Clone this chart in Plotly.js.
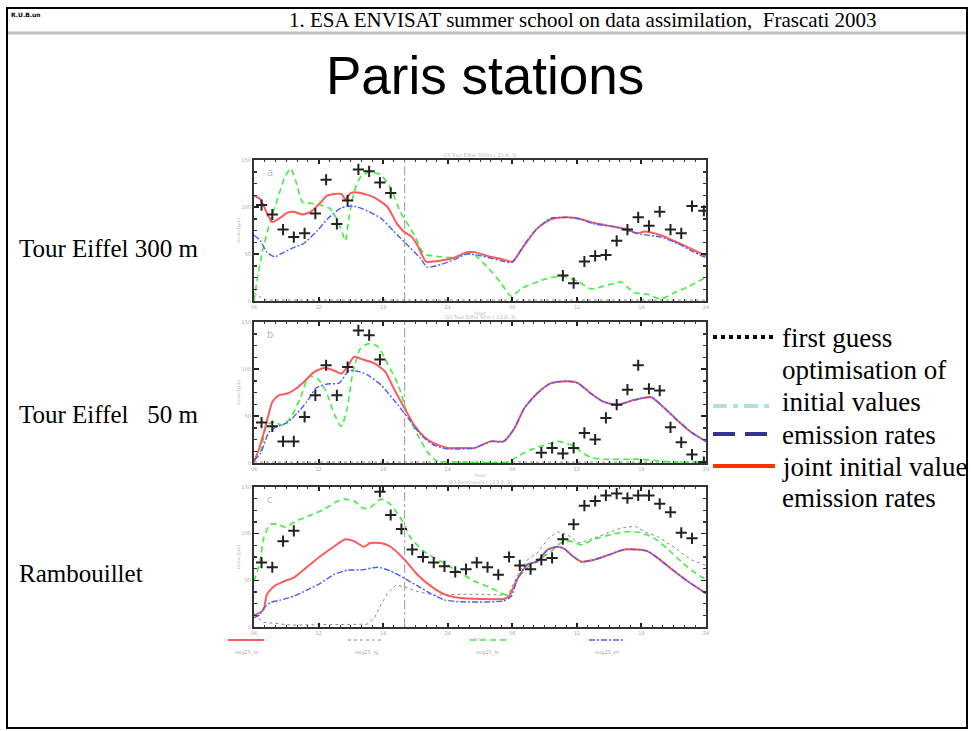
<!DOCTYPE html>
<html>
<head>
<meta charset="utf-8">
<script src="https://cdn.plot.ly/plotly-3.0.1.min.js"></script>
<style>html,body{margin:0;padding:0;background:#fff}#chart{width:971px;height:731px}</style>
</head>
<body>
<div id="chart"></div>
<script>
// ---------- DATA (hours, ozone ppb) ----------
const hourTicks = [6, 12, 18, 24, 30, 36, 42, 48];
const hourTickText = ['06', '12', '18', '24', '06', '12', '18', '24'];
const ozoneTicks = [0, 50, 100, 150];
const analysisEnd = 20;

const stationNames = ['Tour Eiffel 300 m', 'Tour Eiffel   50 m', 'Rambouillet'];
const panelTitles = ['O3 Tour Eiffel 300m ( 13.8. 3)', 'O3 Tour Eiffel 50m ( 13.8. 3)', 'O3 Rambouillet ( 13.8. 3)'];
const panelLetters = ['a', 'b', 'c'];
const runNames = ['oeg25_fe', 'oeg25_fg', 'oug25_fe', 'oug25_eh'];
const legendLabels = ['first guess', 'optimisation of', 'initial values', 'emission rates', 'joint initial value', 'emission rates'];

// Panel 1 : Tour Eiffel 300 m
const p1JointX = [6,6.6,7.1,7.7,8.5,9.1,9.7,10.5,11.3,12.2,12.8,14.1,14.5,15.0,15.9,17.2,18.4,19.3,20.0,20.6,21.2,22.0,23.4,24.6,25.8,26.5,27.7,28.9,30.0,31.1,32.3,33.6,35.1,36.4,37.6,39.5,40.7,41.6,42.3,43.8,45.4,46.9,48];
const p1JointY = [112,108,96,84,89,94,95,92,95,105,112,114,108,115,115,110,100,82,73,69,59,42,43,46,52,52,48,45,42,59,77,87,89,87,83,79,76,72,74,70,62,54,48];
const p1EmisX = [6,6.6,7.2,7.9,8.8,9.7,10.6,11.9,12.8,14.1,15.3,16.5,17.8,19.0,20.3,21.5,22.1,23.4,24.6,25.8,27.1,28.9,30.0,31.1,32.3,33.6,35.1,36.4,37.6,39.5,40.7,42.0,43.8,45.4,46.9,48];
const p1EmisY = [70,64,52,47,52,57,61,75,87,99,101,96,88,74,59,45,36,39,44,50,48,43,41,60,77,88,89,87,82,79,75,71,68,61,52,46];
const p1InitX = [6,6.3,6.9,7.5,8.2,8.8,9.4,9.9,10.5,11.3,12.2,13.1,13.7,14.2,14.5,14.8,15.3,15.9,16.7,17.8,18.7,19.6,20.9,21.8,22.7,24.6,25.8,26.5,27.7,28.9,29.9,30.8,32.0,33.6,34.8,36.1,37.3,38.9,40.1,41.3,42.6,43.8,45.1,46.3,48];
const p1InitY = [0,23,59,84,109,130,141,127,105,104,102,98,87,73,64,87,116,132,137,134,120,95,70,50,48,46,51,49,36,20,5,13,19,25,26,21,13,17,20,9,7,2,9,15,25];
const p1GuessX = [6,6.6,7.2,12,18,24,30,36,42,48];
const p1GuessY = [9,4,1,1,1,1,1,1,1,1];
const p1ObsX = [6.7,7.7,8.7,9.7,10.7,11.7,12.7,13.7,14.7,15.7,16.7,17.7,18.7,34.7,35.7,36.7,37.7,38.7,39.7,40.7,41.7,42.7,43.7,44.7,45.7,46.7,47.8];
const p1ObsY = [102,92,76,68,72,93,129,82,107,140,138,126,115,27,19,42,48,49,64,76,89,80,95,76,72,101,96];

// Panel 2 : Tour Eiffel 50 m
const p2JointX = [6,6.5,7.1,7.7,8.3,9.1,9.9,10.7,11.6,12.5,13.3,14.1,14.6,15.3,15.9,17.2,18.2,19.0,20.0,20.9,21.8,22.7,24.0,25.2,26.5,28.0,29.2,30.2,31.1,32.3,33.6,35.1,36.1,37.3,38.5,39.8,41.3,42.9,43.8,45.1,46.6,48];
const p2JointY = [1,16,40,65,72,74,79,87,97,101,99,95,101,113,111,106,97,79,58,40,28,21,16,16,16,23,23,37,58,74,85,87,85,74,65,62,67,70,62,48,33,23];
const p2EmisX = [6,6.6,7.4,8.2,9.1,10.0,10.9,11.8,12.8,13.9,14.8,15.5,16.5,17.8,19.0,20.3,21.5,22.7,24.0,26.5,28.0,29.2,30.2,31.1,32.3,33.6,35.1,36.1,37.3,38.5,39.8,41.3,42.9,43.8,45.1,46.6,48];
const p2EmisY = [3,10,33,39,43,53,65,80,84,85,98,98,94,83,67,48,30,19,15,16,23,23,37,58,74,85,87,85,74,65,62,67,70,62,48,33,23];
const p2InitX = [6,6.6,7.2,7.9,8.6,9.4,10.3,11.1,11.9,12.7,13.5,14.1,14.6,15.2,15.9,16.7,17.5,18.4,19.4,20.3,21.2,22.1,23.0,24.9,29.6,30.5,31.7,33.0,34.2,35.5,36.4,37.3,38.5,42.0,43.8,44.8,48];
const p2InitY = [3,12,40,44,40,48,69,92,90,76,51,39,55,97,122,127,124,106,83,51,30,12,2,1,1,7,14,19,23,19,12,6,4,4,2,1,1];
const p2GuessX = [6,12,18,24,30,36,42,48];
const p2GuessY = [1,1,1,1,1,1,1,1];
const p2ObsX = [6.7,7.7,8.7,9.7,10.7,11.7,12.7,13.7,14.7,15.7,16.7,17.7,32.7,33.7,34.7,35.7,36.7,37.7,38.7,39.7,40.7,41.7,42.7,43.7,44.7,45.7,46.7,47.8];
const p2ObsY = [43,39,23,23,49,72,104,72,102,141,136,110,11,16,10,16,32,25,48,62,78,104,79,77,38,22,9,1];

// Panel 3 : Rambouillet
const p3JointX = [6,6.5,6.9,7.2,7.9,8.8,9.7,11.0,12.2,13.4,14.5,15.3,16.2,16.8,17.8,18.7,20.0,21.2,22.4,23.7,25.2,27.1,29.2,29.7,30.5,31.4,32.3,33.3,34.2,34.8,35.6,36.4,37.6,38.9,40.4,41.6,42.6,43.5,44.7,46.3,48];
const p3JointY = [13,15,19,35,44,49,53,65,76,86,94,92,86,90,90,86,72,56,44,35,31,30,30,33,52,67,70,83,86,84,76,70,72,77,83,83,81,74,63,49,36];
const p3EmisX = [6,6.5,6.9,7.5,8.5,9.7,11.0,12.2,13.4,14.7,15.9,17.5,18.7,20.0,21.2,22.4,23.7,25.2,29.2,29.9,30.5,31.4,32.3,33.3,34.2,34.8,35.6,36.4,37.6,38.9,40.4,41.6,42.6,43.5,44.7,46.3,48];
const p3EmisY = [10,13,20,26,29,33,40,47,56,61,61,64,60,52,44,36,29,27,28,33,52,67,70,83,86,84,76,70,72,77,83,83,81,74,63,49,36];
const p3InitX = [6,6.5,6.9,7.5,8.2,8.9,10.0,11.3,12.5,13.8,14.5,15.3,16.2,16.8,17.8,18.7,19.6,20.6,21.8,23.4,24.9,26.5,28.0,29.6,30.5,31.7,32.7,33.6,34.5,35.4,36.4,37.6,39.2,40.7,42.0,43.2,44.5,45.7,47.0,48];
const p3InitY = [49,67,95,110,110,107,114,120,126,135,137,135,127,128,137,131,117,95,81,70,60,49,42,34,52,67,74,81,90,92,88,94,99,102,101,95,83,70,58,51];
const p3GuessX = [6,6.9,7.9,9.4,16.5,17.2,17.8,18.4,19.2,20.0,21.2,22.8,24.6,27.1,29.6,30.5,31.4,32.3,33.3,34.2,35.1,36.2,37.3,38.5,40.1,41.4,42.3,43.5,45.1,46.6,48];
const p3GuessY = [13,5,4,2,3,10,24,36,45,43,38,34,35,35,34,56,72,79,94,102,99,90,94,99,106,108,102,97,85,72,66];
const p3ObsX = [6.7,7.7,8.7,9.7,17.7,18.7,19.7,20.7,21.7,22.7,23.7,24.7,25.7,26.7,27.7,28.7,29.7,30.7,31.7,32.7,33.7,34.7,35.7,36.7,37.7,38.7,39.7,40.7,41.7,42.7,43.7,44.7,45.7,46.7];
const p3ObsY = [69,64,92,103,145,120,105,83,75,69,65,59,62,69,64,56,75,66,62,72,74,94,110,130,135,141,143,138,141,141,132,123,101,95];

// ---------- LAYOUT HELPERS ----------
const W = 971, H = 731;
const fx = p => p / W;
const fy = p => 1 - p / H;
const panelBox = [[160, 301], [322, 463], [487, 627]];
const xDom = [fx(254), fx(706)];

const panels = [
  {jx: p1JointX, jy: p1JointY, ex: p1EmisX, ey: p1EmisY, ix: p1InitX, iy: p1InitY, gx: p1GuessX, gy: p1GuessY, ox: p1ObsX, oy: p1ObsY},
  {jx: p2JointX, jy: p2JointY, ex: p2EmisX, ey: p2EmisY, ix: p2InitX, iy: p2InitY, gx: p2GuessX, gy: p2GuessY, ox: p2ObsX, oy: p2ObsY},
  {jx: p3JointX, jy: p3JointY, ex: p3EmisX, ey: p3EmisY, ix: p3InitX, iy: p3InitY, gx: p3GuessX, gy: p3GuessY, ox: p3ObsX, oy: p3ObsY}
];

const RED = '#ff5a5a', GREEN = '#3ef03e', BLUE = '#4a5cff', GREY = '#8a8a8a';
const traces = [];
const layout = {
  width: W, height: H,
  margin: {l: 0, r: 0, t: 0, b: 0},
  paper_bgcolor: '#fff', plot_bgcolor: '#fff',
  showlegend: false,
  shapes: [], annotations: []
};

panels.forEach((p, i) => {
  const n = i === 0 ? '' : String(i + 1);
  const xa = 'x' + n, ya = 'y' + n;
  const common = {xaxis: xa, yaxis: ya, hoverinfo: 'skip', showlegend: false};
  traces.push(Object.assign({x: p.gx, y: p.gy, mode: 'lines', line: {color: GREY, width: 1, dash: 'dot'}}, common));
  traces.push(Object.assign({x: p.ix, y: p.iy, mode: 'lines', line: {color: GREEN, width: 1.6, dash: '6px,4px', shape: 'spline', smoothing: 0.6}}, common));
  traces.push(Object.assign({x: p.jx, y: p.jy, mode: 'lines', line: {color: RED, width: 2, shape: 'spline', smoothing: 0.6}}, common));
  traces.push(Object.assign({x: p.ex, y: p.ey, mode: 'lines', line: {color: BLUE, width: 1.4, dash: '6px,2px,2px,2px', shape: 'spline', smoothing: 0.6}}, common));
  traces.push(Object.assign({x: p.ox, y: p.oy, mode: 'markers', marker: {symbol: 'cross-thin-open', size: 8, color: '#222', line: {color: '#222', width: 2}}}, common));

  const [top, bot] = panelBox[i];
  layout['xaxis' + n] = {
    domain: xDom, anchor: ya, range: [6, 48],
    tickvals: hourTicks, ticktext: hourTickText,
    ticks: 'inside', ticklen: 4, tickwidth: 2, tickcolor: '#222',
    minor: {ticks: 'inside', dtick: 1, ticklen: 2, tickcolor: '#333', tickwidth: 1},
    showline: true, linecolor: '#333', linewidth: 2, mirror: 'ticks',
    showgrid: false, zeroline: false,
    tickfont: {size: 5, color: '#aaa', family: 'DejaVu Sans'},
    title: {text: 'hour', font: {size: 5, color: '#bbb', family: 'DejaVu Sans'}, standoff: 2}
  };
  layout['yaxis' + n] = {
    domain: [fy(bot), fy(top)], anchor: xa, range: [0, 150],
    tickvals: ozoneTicks,
    ticks: 'inside', ticklen: 5, tickwidth: 1.5, tickcolor: '#222',
    minor: {ticks: 'inside', dtick: 12.5, ticklen: 3, tickcolor: '#333'},
    showline: true, linecolor: '#333', linewidth: 2, mirror: 'ticks',
    showgrid: false, zeroline: false,
    tickfont: {size: 5, color: '#aaa', family: 'DejaVu Sans'},
    title: {text: 'Ozone [ppb]', font: {size: 4, color: '#bbb', family: 'DejaVu Sans'}, standoff: 1}
  };
  layout.shapes.push({type: 'line', xref: xa, yref: ya + ' domain', x0: analysisEnd, x1: analysisEnd, y0: 0, y1: 1,
    line: {color: '#999', width: 1, dash: 'dashdot'}});
  layout.annotations.push({xref: 'paper', yref: 'paper', x: fx(480), y: fy(top - 5), text: panelTitles[i],
    showarrow: false, xanchor: 'center', yanchor: 'middle', font: {size: 5, color: '#bbb', family: 'DejaVu Sans'}});
  layout.annotations.push({xref: 'paper', yref: 'paper', x: fx(270), y: fy(top + 12), text: panelLetters[i],
    showarrow: false, xanchor: 'center', yanchor: 'middle', font: {size: 10, color: '#bbb', family: 'DejaVu Sans'}});
  layout.annotations.push({xref: 'paper', yref: 'paper', x: fx(17), y: fy([248, 414, 573][i]), text: stationNames[i].replace(/ /g, '&nbsp;'),
    showarrow: false, xanchor: 'left', yanchor: 'middle', font: {size: 25, color: '#000', family: 'Liberation Serif'}});
});

// slide frame and header
layout.shapes.push({type: 'rect', xref: 'paper', yref: 'paper', x0: fx(7), x1: fx(967), y0: fy(728), y1: fy(8), line: {color: '#000', width: 2}});
layout.shapes.push({type: 'line', xref: 'paper', yref: 'paper', x0: fx(8), x1: fx(966), y0: fy(33), y1: fy(33), line: {color: '#c0c0c0', width: 3}});
layout.annotations.push({xref: 'paper', yref: 'paper', x: fx(583), y: fy(20), text: '1. ESA ENVISAT summer school on data assimilation,  Frascati 2003',
  showarrow: false, xanchor: 'center', yanchor: 'middle', font: {size: 21, color: '#000', family: 'Liberation Serif'}});
layout.annotations.push({xref: 'paper', yref: 'paper', x: fx(9), y: fy(14), text: '<b>R.U.B.un</b>',
  showarrow: false, xanchor: 'left', yanchor: 'middle', font: {size: 6, color: '#000', family: 'DejaVu Sans'}});
layout.annotations.push({xref: 'paper', yref: 'paper', x: fx(485), y: fy(75), text: 'Paris stations',
  showarrow: false, xanchor: 'center', yanchor: 'middle', font: {size: 53, color: '#000', family: 'Liberation Sans'}});

// right-hand legend
const legRows = [338, 370, 402, 435, 467, 498];
const legStyles = [
  {color: '#000', width: 4, dash: 'dot'}, null,
  {color: '#b4dde0', width: 4, dash: '14px,6px,5px,6px'},
  {color: '#333399', width: 4, dash: '22px,10px'},
  {color: '#ff3300', width: 4}, null
];
legendLabels.forEach((t, k) => {
  layout.annotations.push({xref: 'paper', yref: 'paper', x: fx(780), y: fy(legRows[k]), text: t,
    showarrow: false, xanchor: 'left', yanchor: 'middle', font: {size: 27, color: '#000', family: 'Liberation Serif'}});
  if (legStyles[k]) {
    const yy = k === 2 ? 406 : legRows[k] - 1;
    layout.shapes.push({type: 'line', xref: 'paper', yref: 'paper', x0: fx(713), x1: fx(775), y0: fy(yy), y1: fy(yy), line: legStyles[k]});
  }
});

// bottom run legend (original plot)
const runStyles = [
  {color: RED, width: 2}, {color: GREY, width: 1, dash: 'dot'},
  {color: GREEN, width: 1.6, dash: '6px,4px'}, {color: BLUE, width: 1.4, dash: '6px,2px,2px,2px'}
];
const runX = [228, 348, 470, 589];
runNames.forEach((t, k) => {
  layout.shapes.push({type: 'line', xref: 'paper', yref: 'paper', x0: fx(runX[k]), x1: fx(runX[k] + 36), y0: fy(640), y1: fy(640), line: runStyles[k]});
  layout.annotations.push({xref: 'paper', yref: 'paper', x: fx(runX[k] + 18), y: fy(652), text: t,
    showarrow: false, xanchor: 'center', yanchor: 'middle', font: {size: 5, color: '#aaa', family: 'DejaVu Sans'}});
});

Plotly.newPlot('chart', traces, layout, {staticPlot: true, displayModeBar: false});
</script>
</body>
</html>
